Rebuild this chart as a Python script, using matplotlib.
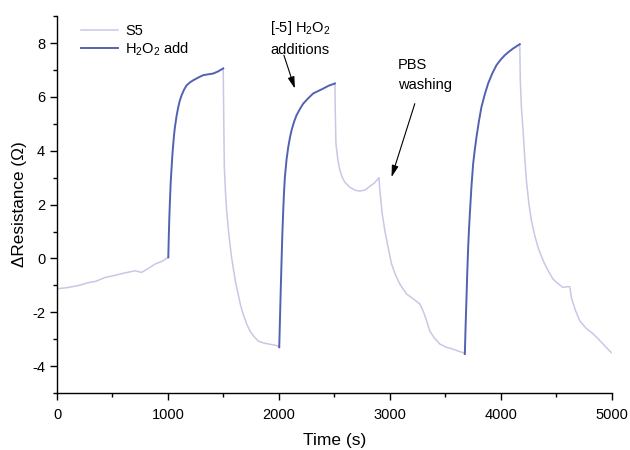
import matplotlib
matplotlib.use("Agg")
import matplotlib.pyplot as plt
from matplotlib.ticker import MultipleLocator
from matplotlib.patches import ArrowStyle

plt.rcParams['font.family'] = ['Liberation Sans', 'DejaVu Sans']
plt.rcParams['mathtext.fontset'] = 'custom'
plt.rcParams['mathtext.rm'] = 'Liberation Sans'
plt.rcParams['mathtext.it'] = 'Liberation Sans'
plt.rcParams['axes.unicode_minus'] = False

# S5 baseline / washing segments (time s, resistance Ohm)
s5_t1 = [0, 100, 200, 282, 350, 432, 500, 600, 703, 763, 820, 883, 950, 1003]
s5_v1 = [-1.13, -1.08, -1.0, -0.9, -0.85, -0.71, -0.65, -0.55, -0.46, -0.52, -0.38, -0.21, -0.1, 0.04]

s5_t2 = [1498, 1502, 1508, 1518, 1529, 1544, 1559, 1573, 1588, 1610, 1633, 1655, 1678, 1708,
         1739, 1775, 1814, 1860, 1919, 1960, 1994, 2003]
s5_v2 = [7.06, 5.5, 3.39, 2.5, 1.78, 1.1, 0.53, 0.05, -0.34, -0.9, -1.33, -1.75, -2.07, -2.42,
         -2.7, -2.9, -3.07, -3.14, -3.19, -3.22, -3.26, -3.3]

s5_t3 = [2505, 2508, 2514, 2530, 2550, 2572, 2595, 2640, 2690, 2730, 2780, 2820, 2860, 2895, 2902,
         2910, 2930, 2955, 2985, 3015, 3050, 3090, 3150, 3210, 3270, 3300, 3330, 3360,
         3400, 3450, 3510, 3570, 3620, 3660, 3676]
s5_v3 = [6.5, 5.5, 4.27, 3.7, 3.27, 3.0, 2.83, 2.64, 2.53, 2.5, 2.55, 2.68, 2.8, 2.96, 3.0,
         2.52, 1.7, 1.03, 0.4, -0.2, -0.6, -0.95, -1.32, -1.5, -1.69, -1.95, -2.3, -2.7,
         -2.95, -3.18, -3.3, -3.37, -3.45, -3.5, -3.55]

s5_t4 = [4171, 4176, 4186, 4201, 4216, 4231, 4253, 4276, 4306, 4336, 4366, 4396, 4433, 4471,
         4520, 4561, 4600, 4622, 4636, 4670, 4712, 4770, 4832, 4880, 4922, 4960, 4997]
s5_v4 = [7.96, 6.6, 5.6, 4.76, 3.75, 2.89, 2.05, 1.4, 0.85, 0.41, 0.08, -0.21, -0.5, -0.77,
         -0.95, -1.08, -1.05, -1.05, -1.45, -1.9, -2.32, -2.6, -2.8, -3.0, -3.18, -3.35, -3.5]

# H2O2 addition segments
h_t1 = [1003, 1008, 1013, 1018, 1025, 1033, 1040, 1048, 1055, 1063, 1078, 1093, 1108, 1123,
        1145, 1168, 1198, 1228, 1273, 1318, 1363, 1408, 1453, 1498]
h_v1 = [0.04, 0.9, 1.6, 2.15, 2.85, 3.39, 3.85, 4.26, 4.6, 4.88, 5.3, 5.63, 5.88, 6.06,
        6.27, 6.43, 6.54, 6.62, 6.72, 6.81, 6.84, 6.87, 6.95, 7.06]

h_t2 = [2003, 2010, 2017, 2024, 2031, 2039, 2046, 2054, 2069, 2084, 2099, 2114, 2136, 2159,
        2189, 2219, 2264, 2309, 2354, 2399, 2450, 2505]
h_v2 = [-3.3, -2.2, -1.1, -0.09, 0.9, 1.78, 2.45, 3.02, 3.68, 4.13, 4.48, 4.76, 5.07, 5.32,
        5.55, 5.75, 5.95, 6.13, 6.22, 6.31, 6.42, 6.5]

h_t3 = [3676, 3683, 3691, 3698, 3706, 3713, 3721, 3736, 3751, 3766, 3781, 3803, 3826, 3856,
        3886, 3923, 3961, 3998, 4036, 4073, 4111, 4141, 4171]
h_v3 = [-3.55, -2.5, -1.46, -0.5, 0.41, 1.05, 1.65, 2.7, 3.52, 4.05, 4.51, 5.1, 5.63, 6.1,
        6.5, 6.87, 7.18, 7.38, 7.55, 7.68, 7.8, 7.88, 7.96]

light = '#c7c8e5'
dark = '#5262b2'

fig = plt.figure(figsize=(6.3, 4.5), dpi=100)
ax = fig.add_axes([0.0905, 0.1267, 0.8805, 0.8373])

for i, (t, v) in enumerate([(s5_t1, s5_v1), (s5_t2, s5_v2), (s5_t3, s5_v3), (s5_t4, s5_v4)]):
    ax.plot(t, v, color=light, lw=1.1, label='S5' if i == 0 else None)
for i, (t, v) in enumerate([(h_t1, h_v1), (h_t2, h_v2), (h_t3, h_v3)]):
    ax.plot(t, v, color=dark, lw=1.4, label=r'H$_2$O$_2$ add' if i == 0 else None)

ax.set_xlim(0, 5000)
ax.set_ylim(-5, 9)
ax.xaxis.set_major_locator(MultipleLocator(1000))
ax.xaxis.set_minor_locator(MultipleLocator(500))
ax.yaxis.set_major_locator(MultipleLocator(2))
ax.yaxis.set_minor_locator(MultipleLocator(1))
ax.tick_params(which='major', direction='out', length=5, width=1, labelsize=10.5)
ax.tick_params(axis='x', which='major', pad=5.5)
ax.tick_params(which='minor', direction='out', length=3, width=1)
for s in ['top', 'right']:
    ax.spines[s].set_visible(False)
for s in ['left', 'bottom']:
    ax.spines[s].set_linewidth(1)

ax.set_xlabel('Time (s)', fontsize=12.5, labelpad=8)
ax.set_ylabel('ΔResistance (Ω)', fontsize=12.3, labelpad=4)

ax.legend(loc='upper left', bbox_to_anchor=(0.02, 1.015), frameon=False, fontsize=10.5,
          handlelength=2.5, handletextpad=0.5, labelspacing=0.2)

astyle = ArrowStyle('-|>', head_length=0.7, head_width=0.2)
ax.annotate('', xy=(2144, 6.31), xytext=(2045, 7.55),
            arrowprops=dict(arrowstyle=astyle, color='black', lw=0.8, mutation_scale=10,
                            shrinkA=0, shrinkB=0))
ax.text(1919, 8.55, r'[-5] H$_2$O$_2$', fontsize=10.5, ha='left', va='center')
ax.text(1919, 7.74, 'additions', fontsize=10.5, ha='left', va='center')

ax.annotate('', xy=(3015, 3.02), xytext=(3225, 5.75),
            arrowprops=dict(arrowstyle=astyle, color='black', lw=0.8, mutation_scale=10,
                            shrinkA=0, shrinkB=0))
ax.text(3072, 7.18, 'PBS', fontsize=10.5, ha='left', va='center')
ax.text(3072, 6.43, 'washing', fontsize=10.5, ha='left', va='center')

fig.savefig('out.png', dpi=100)
